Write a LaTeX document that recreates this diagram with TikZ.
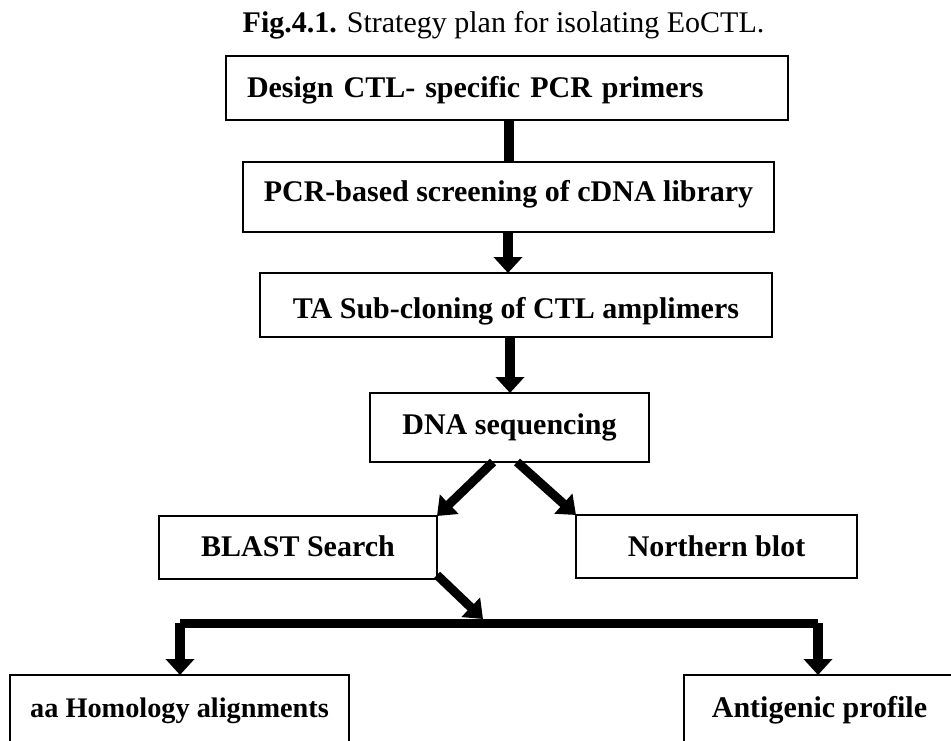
\documentclass[tikz,border=0pt]{standalone}
\usepackage{fontspec}
\setmainfont{Liberation Serif}
\usetikzlibrary{arrows.meta,calc}
\begin{document}
\begin{tikzpicture}[x=1pt,y=-1pt,
  box/.style={draw, line width=2.2pt, anchor=north west, outer sep=0pt,
    inner ysep=0pt, inner xsep=0pt, font=\fontsize{30}{36}\selectfont\bfseries},
  link/.style={line width=10pt},
  flow/.style={line width=10pt, -{Triangle[width=28pt,length=16pt]}},
  flowd/.style={line width=9pt, -{Triangle[width=26pt,length=17pt]}},
  barline/.style={line width=9pt, line cap=square}
]
\useasboundingbox (0,0) rectangle (951,741);
\fill[white] (0,0) rectangle (951,741);
\clip (0,0) rectangle (951,741);

\node[anchor=base, font=\fontsize{30}{36}\selectfont] (title) at (503.5,32.4)
  {\textbf{Fig.4.1.} Strategy plan for isolating EoCTL.};

\node[box, minimum width=562pt, text width=520pt, align=left, inner xsep=21pt,
  text height=41.4pt, text depth=22.6pt] (b1) at (226,56) {Design CTL- specific PCR primers};
\node[box, minimum width=531pt, text height=39pt, text depth=31pt] (b2) at (243,162)
  {PCR-based screening of cDNA library};
\node[box, minimum width=512pt, text height=45pt, text depth=19pt] (b3) at (260,273)
  {TA Sub-cloning of CTL amplimers};
\node[box, minimum width=279pt, text height=41pt, text depth=28pt] (b4) at (370,393)
  {DNA sequencing};
\node[box, minimum width=278pt, text height=40.5pt, text depth=22.5pt] (b5) at (159,516)
  {BLAST Search};
\node[box, minimum width=281pt, text height=41.5pt, text depth=21.5pt] (b6) at (576,515)
  {Northern blot};
\node[box, minimum width=339pt, text height=42.4pt, text depth=82.6pt,
  font=\fontsize{28.3}{34}\selectfont\bfseries] (b7) at (10,675)
  {aa Homology alignments};
\node[box, minimum width=271pt, text height=42.4pt, text depth=82.6pt] (b8) at (684,675)
  {Antigenic profile};

\coordinate (v1) at (509,0);
\coordinate (v2) at (508,0);
\coordinate (v3) at (510,0);
\coordinate (s1) at (493,0);
\coordinate (s2) at (517,0);
\coordinate (jl) at (180,623);
\coordinate (jr) at (818,623);
\coordinate (jt) at (483,619);

\draw[link] (b1.south -| v1) -- (b2.north -| v1);
\draw[flow] (b2.south -| v2) -- (b3.north -| v2);
\draw[flow] (b3.south -| v3) -- (b4.north -| v3);
\draw[flowd] (b4.south -| s1) -- (b5.north east);
\draw[flowd] (b4.south -| s2) -- (b6.north west);
\draw[flowd] ($(b5.south east)+(0,-4)$) -- (jt);
\draw[barline] (jl) -- (jr);
\draw[flow] (jl) -- (b7.north -| jl);
\draw[flow] (jr) -- (b8.north -| jr);
\end{tikzpicture}
\end{document}
